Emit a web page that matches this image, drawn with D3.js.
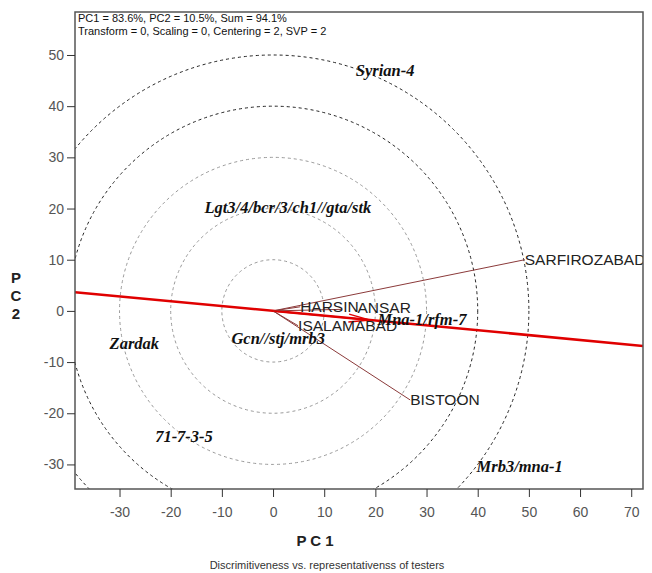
<!DOCTYPE html>
<html>
<head>
<meta charset="utf-8">
<script src="https://cdn.jsdelivr.net/npm/d3@7"></script>
<style>
body{margin:0;background:#fff;}
svg{display:block;}
</style>
</head>
<body>
<svg id="chart" width="652" height="573"></svg>
<script>
// ---- data ----
const xTicks = [-30,-20,-10,0,10,20,30,40,50,60,70];
const yTicks = [-30,-20,-10,0,10,20,30,40,50];
const circleRadii = [10,20,30,40,50];
const testerNames = ["SARFIROZABAD","BISTOON","HARSIN","ANSAR","ISALAMABAD"];
const testerPC1 = [49.2, 26.8, 5.3, 16.5, 4.9];
const testerPC2 = [10.0, -17.4, 0.8, 0.6, -2.9];
const testerVecPC1 = [49.2, 26.8, 5.3, 13.5, 4.9];
const testerVecPC2 = [10.0, -17.4, 0.8, 0.3, -2.9];
const genoNames = ["Syrian-4","Lgt3/4/bcr/3/ch1//gta/stk","Zardak","Gcn//stj/mrb3","71-7-3-5","Mrb3/mna-1","Mna-1/rfm-7"];
const genoPC1 = [21.9, 2.9, -27.1, 1.0, -17.4, 48.2, 29.1];
const genoPC2 = [47.1, 20.3, -6.3, -5.3, -24.4, -30.3, -1.7];
const aecSlope = -0.0946;
const aecArrow = [19.0, -1.8];
const headerLines = ["PC1 = 83.6%, PC2 = 10.5%, Sum = 94.1%","Transform = 0, Scaling = 0, Centering = 2, SVP = 2"];

// ---- layout ----
const L=75, R=643, T=12, B=489;
const svg = d3.select("#chart");
const x = d3.scaleLinear().domain([-38.7,72.3]).range([L,R]);
const y = d3.scaleLinear().domain([-34.8,58.4]).range([B,T]);

svg.append("defs").append("clipPath").attr("id","clip")
  .append("rect").attr("x",L).attr("y",T).attr("width",R-L).attr("height",B-T);

const g = svg.append("g").attr("clip-path","url(#clip)");

// circles
g.selectAll("ellipse.c").data(circleRadii).enter().append("ellipse")
  .attr("cx",x(0)).attr("cy",y(0))
  .attr("rx",d=>x(d)-x(0)).attr("ry",d=>y(0)-y(d))
  .attr("fill","none")
  .attr("stroke",d=>d>=40?"#222":"#999")
  .attr("stroke-width",1)
  .attr("stroke-dasharray","3,3");

// AEC line
const xd = x.domain();
g.append("line")
  .attr("x1",x(xd[0])).attr("y1",y(xd[0]*aecSlope))
  .attr("x2",x(xd[1])).attr("y2",y(xd[1]*aecSlope))
  .attr("stroke","#e00000").attr("stroke-width",2.5);

// tester vectors
testerNames.forEach((n,i)=>{
  g.append("line").attr("x1",x(0)).attr("y1",y(0))
   .attr("x2",x(testerVecPC1[i])).attr("y2",y(testerVecPC2[i]))
   .attr("stroke","#8b3a3a").attr("stroke-width",1);
});

// AEC arrow
const ax = x(aecArrow[0]), ay = y(aecArrow[1]);
const x0 = x(0), y0 = y(0);
const ang = Math.atan2(ay-y0, ax-x0);
const hl = 22, hw = 0.18;
g.append("line").attr("x1",x0).attr("y1",y0).attr("x2",ax).attr("y2",ay)
  .attr("stroke","#e00000").attr("stroke-width",1.5);
g.append("path")
  .attr("d",`M${ax},${ay} L${ax-hl*Math.cos(ang-hw)},${ay-hl*Math.sin(ang-hw)} M${ax},${ay} L${ax-hl*Math.cos(ang+hw)},${ay-hl*Math.sin(ang+hw)}`)
  .attr("stroke","#e00000").attr("stroke-width",1.5).attr("fill","none");

// tester labels
const labelFont = "Arial, 'Liberation Sans', sans-serif";
testerNames.forEach((n,i)=>{
  g.append("text").attr("x",x(testerPC1[i])).attr("y",y(testerPC2[i]))
   .attr("dy","0.35em").attr("text-anchor","start")
   .attr("font-family",labelFont).attr("font-size",15.5).attr("fill","#222")
   .text(n);
});

// genotype labels
genoNames.forEach((n,i)=>{
  g.append("text").attr("x",x(genoPC1[i])).attr("y",y(genoPC2[i]))
   .attr("dy","0.35em").attr("text-anchor","middle")
   .attr("font-family","'Liberation Serif', serif").attr("font-size",16.5)
   .attr("font-weight","bold").attr("font-style","italic").attr("fill","#111")
   .text(n);
});

// header
headerLines.forEach((t,i)=>{
  svg.append("text").attr("x",L+3).attr("y",T+10+i*13)
   .attr("font-family",labelFont).attr("font-size",11).attr("fill","#111").text(t);
});

// frame
svg.append("rect").attr("x",L).attr("y",T).attr("width",R-L).attr("height",B-T)
  .attr("fill","none").attr("stroke","#555").attr("stroke-width",1.5);

// axes
const xAxis = svg.append("g").attr("transform",`translate(0,${B})`)
  .call(d3.axisBottom(x).tickValues(xTicks).tickFormat(d=>String(d)).tickSize(8).tickPadding(10));
const yAxis = svg.append("g").attr("transform",`translate(${L},0)`)
  .call(d3.axisLeft(y).tickValues(yTicks).tickFormat(d=>String(d)).tickSize(8).tickPadding(3));
[xAxis,yAxis].forEach(a=>{
  a.select(".domain").remove();
  a.selectAll("line").attr("stroke","#333");
  a.selectAll("text").attr("font-family",labelFont).attr("font-size",14).attr("fill","#555");
});

// axis titles
svg.append("text").attr("x",315).attr("y",546).attr("text-anchor","middle")
  .attr("font-family",labelFont).attr("font-size",15).attr("font-weight","bold").attr("fill","#222")
  .text("P C 1");
["P","C","2"].forEach((c,i)=>{
  svg.append("text").attr("x",16).attr("y",283+i*18).attr("text-anchor","middle")
   .attr("font-family",labelFont).attr("font-size",15).attr("font-weight","bold").attr("fill","#222")
   .text(c);
});
svg.append("text").attr("x",327).attr("y",569).attr("text-anchor","middle")
  .attr("font-family",labelFont).attr("font-size",11).attr("fill","#333")
  .text("Discrimitiveness vs. representativenss of testers");
</script>
</body>
</html>
